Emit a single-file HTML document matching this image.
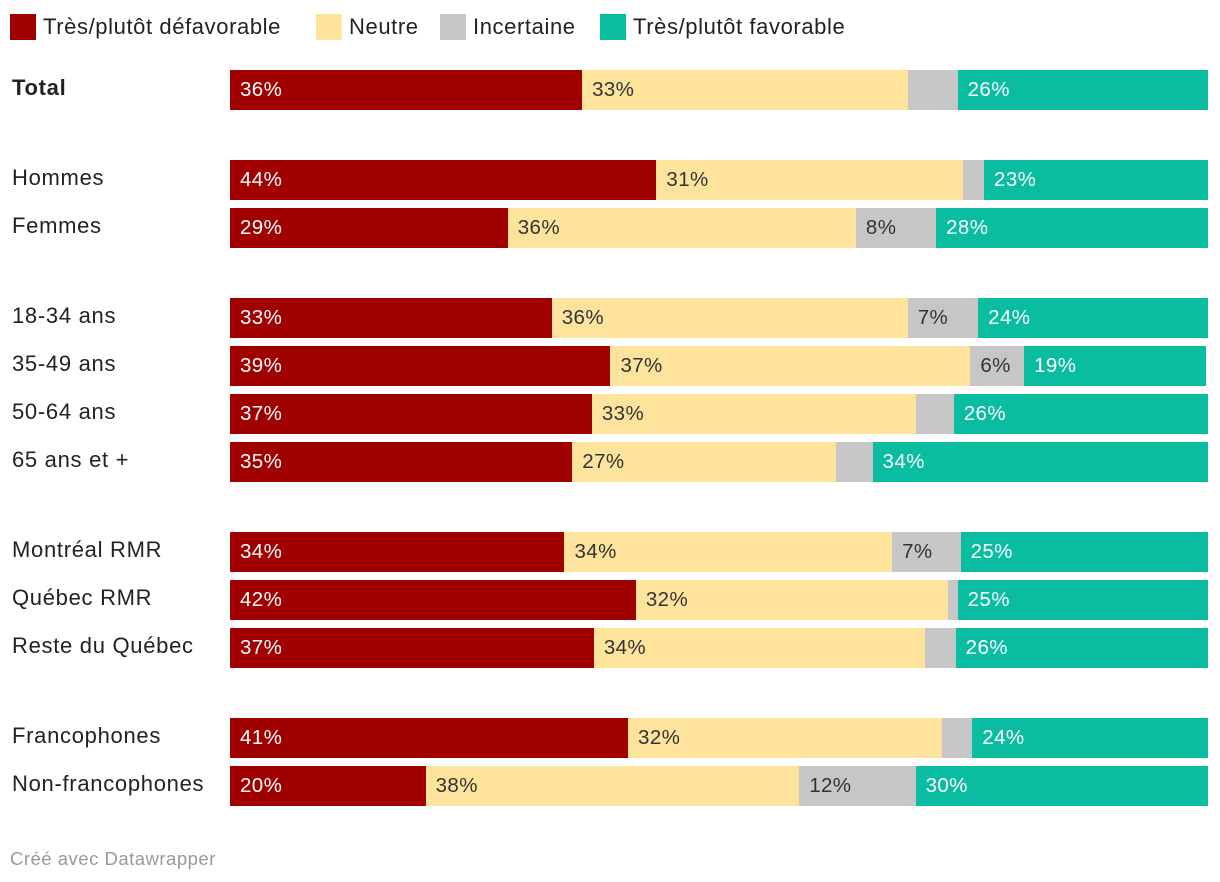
<!DOCTYPE html>
<html><head><meta charset="utf-8">
<style>
body{margin:0;background:#fff;font-family:"Liberation Sans",sans-serif;}
#wrap{position:relative;width:1220px;height:882px;overflow:hidden;}
.leg{position:absolute;top:14px;display:flex;align-items:center;font-size:22px;letter-spacing:0.6px;color:#222;}
.leg span.sw{display:inline-block;width:26px;height:26px;margin-right:7px;}
.lbl{position:absolute;left:12px;font-size:22px;letter-spacing:0.7px;color:#222;}
.seg{position:absolute;height:40px;font-size:20.5px;letter-spacing:0.4px;line-height:40px;box-sizing:border-box;padding-left:10px;white-space:nowrap;overflow:hidden;}
#foot{position:absolute;left:10px;top:848px;font-size:18.5px;letter-spacing:0.5px;color:#999;}
</style></head>
<body><div id="wrap">
<div class="leg" style="left:10px"><span class="sw" style="background:#a10000"></span>Très/plutôt défavorable</div>
<div class="leg" style="left:316px"><span class="sw" style="background:#fde39c"></span>Neutre</div>
<div class="leg" style="left:440px"><span class="sw" style="background:#c6c6c6"></span>Incertaine</div>
<div class="leg" style="left:600px"><span class="sw" style="background:#0abda0"></span>Très/plutôt favorable</div>
<div id="foot">Créé avec Datawrapper</div>
</div>
<script>
const categories=["Total","Hommes","Femmes","18-34 ans","35-49 ans","50-64 ans","65 ans et +","Montréal RMR","Québec RMR","Reste du Québec","Francophones","Non-francophones"];
const defavorable=[36.0,43.6,28.4,32.9,38.9,37.0,35.0,34.2,41.5,37.2,40.7,20.0];
const neutre=[33.3,31.3,35.6,36.4,36.8,33.1,27.0,33.5,31.9,33.9,32.1,38.2];
const incertaine=[5.1,2.2,8.2,7.2,5.5,3.9,3.7,7.0,1.0,3.1,3.1,11.9];
const favorable=[25.6,22.9,27.8,23.5,18.6,26.0,34.3,25.3,25.6,25.8,24.1,29.9];
const labelsDefavorable=[36,44,29,33,39,37,35,34,42,37,41,20];
const labelsNeutre=[33,31,36,36,37,33,27,34,32,34,32,38];
const labelsIncertaine=[null,null,8,7,6,null,null,7,null,null,null,12];
const labelsFavorable=[26,23,28,24,19,26,34,25,25,26,24,30];
const groupIndex=[0,1,1,2,2,2,2,3,3,3,4,4];
const series=[defavorable,neutre,incertaine,favorable];
const seriesLabels=[labelsDefavorable,labelsNeutre,labelsIncertaine,labelsFavorable];
const seriesNames=["defavorable","neutre","incertaine","favorable"];
const colors=["#a10000","#fde39c","#c6c6c6","#0abda0"];
const textColors=["#fff","#333","#333","#fff"];
const x0=230,pxPer=9.78;
function xScale(v){return v*pxPer;}
function yRow(i){return 70+i*48+groupIndex[i]*42;}
const wrap=document.getElementById('wrap');
categories.forEach((c,i)=>{
  const y=yRow(i);
  const l=document.createElement('div');
  l.className='lbl';l.textContent=c;l.style.top=(y+5)+'px';
  if(i===0)l.style.fontWeight='bold';
  
  
  wrap.appendChild(l);
  let acc=0;
  series.forEach((s,k)=>{
    const v=s[i];
    const d=document.createElement('div');
    d.className='seg';
    d.style.left=(x0+xScale(acc))+'px';
    d.style.width=xScale(v)+'px';
    d.style.top=y+'px';
    d.style.background=colors[k];
    d.style.color=textColors[k];
    const lab=seriesLabels[k][i];
    if(lab!==null)d.textContent=lab+'%';
    
    
    wrap.appendChild(d);
    acc+=v;
  });
});
</script>
</body></html>
